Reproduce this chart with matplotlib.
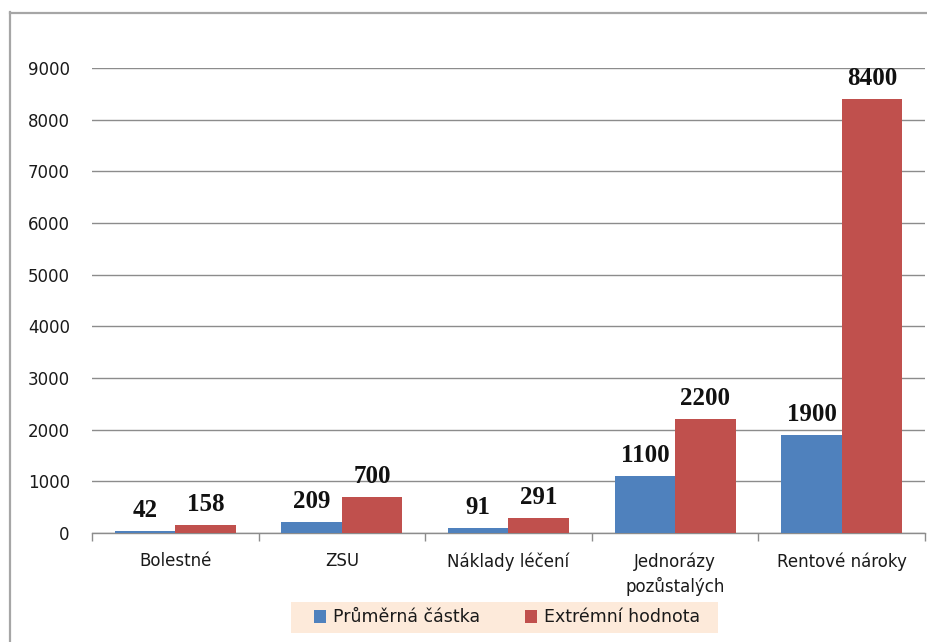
import matplotlib
matplotlib.use("Agg")
import matplotlib.pyplot as plt
import numpy as np
from matplotlib.lines import Line2D
from matplotlib.patches import Patch, Rectangle

categories = ["Bolestné", "ZSU", "Náklady léčení", "Jednorázy\npozůstalých", "Rentové nároky"]
prumerna = [42, 209, 91, 1100, 1900]
extremni = [158, 700, 291, 2200, 8400]
series_names = ["Průměrná částka", "Extrémní hodnota"]
yticks = [0, 1000, 2000, 3000, 4000, 5000, 6000, 7000, 8000, 9000]

blue = "#4F81BD"
red = "#C0504D"

W, H = 928, 642
fig = plt.figure(figsize=(W / 100, H / 100), dpi=100)
fig.patch.set_facecolor("white")

# outer chart-area border (left and top edges visible)
fig.add_artist(Line2D([10.5 / W, 10.5 / W], [0, 1 - 12 / H], transform=fig.transFigure,
                      color="#a6a6a6", lw=1.6))
fig.add_artist(Line2D([10 / W, 1], [1 - 12.5 / H, 1 - 12.5 / H], transform=fig.transFigure,
                      color="#a6a6a6", lw=1.6))

left, right = 92 / W, 925 / W
bottom, top = 1 - 533 / H, 1 - 68 / H
ax = fig.add_axes([left, bottom, right - left, top - bottom])

x = np.arange(len(categories))
bw = 0.363
b1 = ax.bar(x - bw / 2, prumerna, width=bw, color=blue, zorder=3)
b2 = ax.bar(x + bw / 2, extremni, width=bw, color=red, zorder=3)

ax.set_xlim(-0.5, len(categories) - 0.5)
ax.set_ylim(0, 9000)
ax.set_yticks(yticks)
ax.set_yticklabels([str(v) for v in yticks], fontsize=12, family="DejaVu Sans", color="#1a1a1a")
ax.tick_params(axis="y", length=0, pad=16)
ax.grid(axis="y", color="#8c8c8c", lw=1.0, zorder=0)
ax.set_axisbelow(True)

# category labels at centers, tick marks at category boundaries
ax.set_xticks(x)
ax.set_xticklabels(categories, fontsize=12, family="DejaVu Sans", color="#1a1a1a",
                   linespacing=1.4, va="top")
ax.tick_params(axis="x", length=0, pad=14)
ax.set_xticks(np.arange(-0.5, len(categories)), minor=True)
ax.tick_params(axis="x", which="minor", length=6, color="#8c8c8c", width=1.0, direction="out")

for s in ["top", "right", "left"]:
    ax.spines[s].set_visible(False)
ax.spines["bottom"].set_color("#8c8c8c")
ax.spines["bottom"].set_linewidth(1.0)

for bars, vals in ((b1, prumerna), (b2, extremni)):
    for rect, v in zip(bars, vals):
        ax.annotate(str(v), (rect.get_x() + rect.get_width() / 2, v),
                    xytext=(0, 6.5), textcoords="offset points", ha="center", va="bottom",
                    fontsize=18, fontweight="bold", family="Liberation Serif", color="#111111")

# legend background band
fig.add_artist(Rectangle((291 / W, 1 - 633 / H), (718 - 291) / W, 31 / H,
                         transform=fig.transFigure, facecolor="#FDEADA", edgecolor="none",
                         zorder=1))
handles = [Patch(facecolor=blue, edgecolor="none"), Patch(facecolor=red, edgecolor="none")]
leg = fig.legend(handles, series_names, loc="center",
                 bbox_to_anchor=(507 / W, 1 - 617.5 / H), ncol=2,
                 frameon=False, prop={"family": "DejaVu Sans", "size": 12.5},
                 handlelength=0.7, handleheight=0.7, handletextpad=0.4,
                 columnspacing=2.55, borderpad=0.3, borderaxespad=0)
leg.set_zorder(2)
for t in leg.get_texts():
    t.set_color("#1a1a1a")

fig.savefig("out.png", dpi=100)
